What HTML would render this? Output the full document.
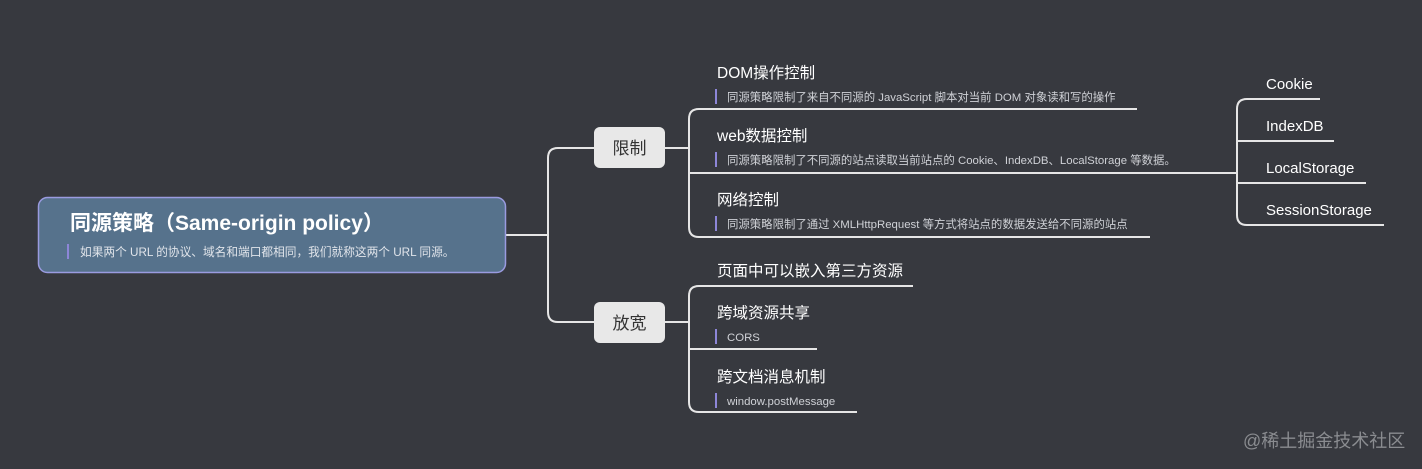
<!DOCTYPE html>
<html><head><meta charset="utf-8"><style>
html,body{margin:0;padding:0;background:#37393f;}
svg{display:block}
text{font-family:"Liberation Sans","Noto Sans CJK SC",sans-serif;}
</style></head><body>
<svg width="1422" height="469" viewBox="0 0 1422 469" xmlns="http://www.w3.org/2000/svg">
<rect width="1422" height="469" fill="#37393f"/>
<g fill="none" stroke="#e6e6e6" stroke-width="2">
<path d="M505 235 H548"/>
<path d="M594 148 H558 Q548 148 548 158 V312 Q548 322 558 322 H594"/>
<path d="M665 148 H689"/>
<path d="M1137 109 H699 Q689 109 689 119 V227 Q689 237 699 237 H1150"/>
<path d="M689 173 H1212"/>
<path d="M1212 173 H1237"/>
<path d="M1320 99 H1247 Q1237 99 1237 109 V215 Q1237 225 1247 225 H1384"/>
<path d="M1237 141 H1334"/>
<path d="M1237 183 H1366"/>
<path d="M665 322 H689"/>
<path d="M913 286 H699 Q689 286 689 296 V402 Q689 412 699 412 H857"/>
<path d="M689 349 H817"/>
</g>
<rect x="38.5" y="197.5" width="467" height="75" rx="9" fill="#56728c" stroke="#9a9be0" stroke-width="1.5"/>
<text x="70" y="230" font-size="21" font-weight="bold" fill="#fff">同源策略（Same-origin policy）</text>
<rect x="67" y="244" width="2" height="15" fill="#8d86d8"/>
<text x="80" y="256" font-size="11.7" fill="#e0e4ea">如果两个 URL 的协议、域名和端口都相同，我们就称这两个 URL 同源。</text>
<rect x="594" y="127" width="71" height="41" rx="6" fill="#e8e8e8"/>
<text x="629.5" y="154" font-size="17" fill="#333" text-anchor="middle">限制</text>
<rect x="594" y="302" width="71" height="41" rx="6" fill="#e8e8e8"/>
<text x="629.5" y="329" font-size="17" fill="#333" text-anchor="middle">放宽</text>
<g fill="#fff" font-size="15.5">
<text x="717" y="78">DOM操作控制</text>
<text x="717" y="141">web数据控制</text>
<text x="717" y="205">网络控制</text>
<text x="717" y="276">页面中可以嵌入第三方资源</text>
<text x="717" y="318">跨域资源共享</text>
<text x="717" y="382">跨文档消息机制</text>
</g>
<g fill="#8d86d8">
<rect x="715" y="89" width="2" height="15"/>
<rect x="715" y="152" width="2" height="15"/>
<rect x="715" y="216" width="2" height="15"/>
<rect x="715" y="329" width="2" height="15"/>
<rect x="715" y="393" width="2" height="15"/>
</g>
<g fill="#cfd1d6" font-size="11.4">
<text x="727" y="101">同源策略限制了来自不同源的 JavaScript 脚本对当前 DOM 对象读和写的操作</text>
<text x="727" y="164">同源策略限制了不同源的站点读取当前站点的 Cookie、IndexDB、LocalStorage 等数据。</text>
<text x="727" y="228">同源策略限制了通过 XMLHttpRequest 等方式将站点的数据发送给不同源的站点</text>
<text x="727" y="341">CORS</text>
<text x="727" y="405">window.postMessage</text>
</g>
<g fill="#fff" font-size="15">
<text x="1266" y="89">Cookie</text>
<text x="1266" y="131">IndexDB</text>
<text x="1266" y="173">LocalStorage</text>
<text x="1266" y="215">SessionStorage</text>
</g>
<text x="1243" y="447" font-size="18" fill="#8a8c90">@稀土掘金技术社区</text>
</svg>
</body></html>
